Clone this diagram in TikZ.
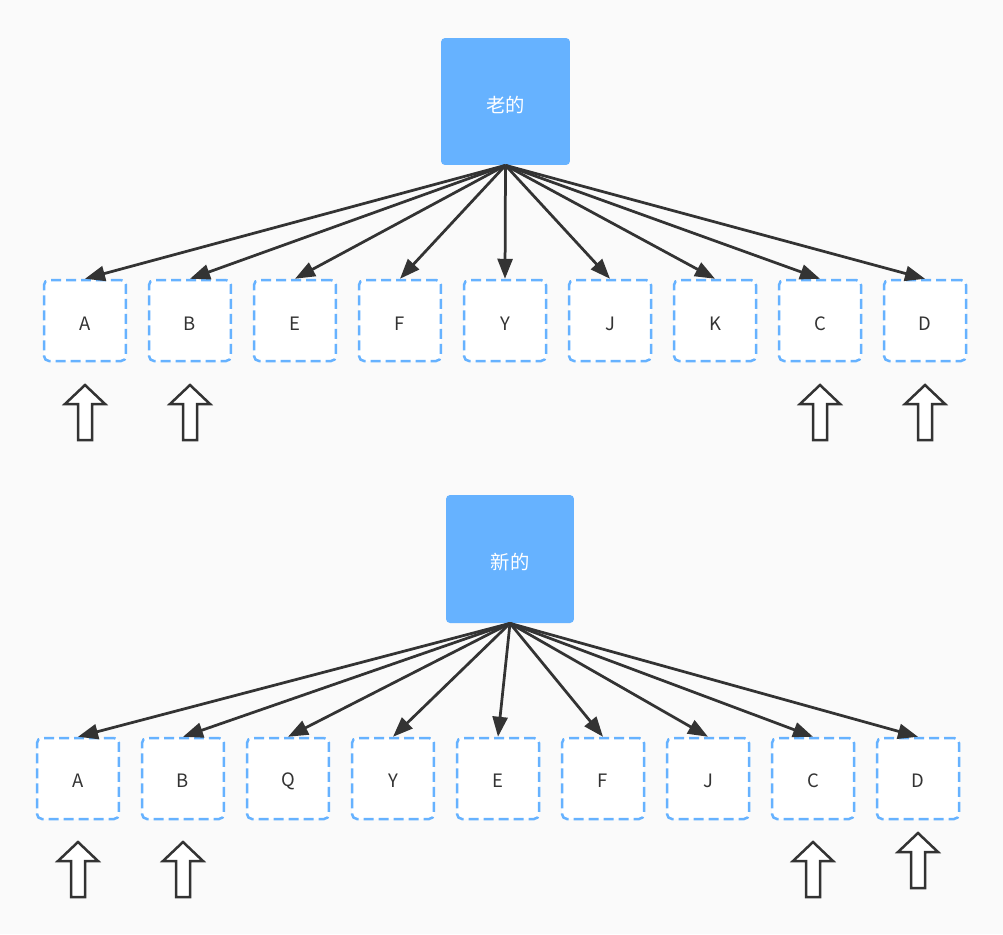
\documentclass[tikz,border=0pt]{standalone}
\usepackage{fontspec}
\setmainfont{Noto Sans CJK SC}
\usetikzlibrary{arrows.meta}
\definecolor{bg}{HTML}{FAFAFA}
\definecolor{blu}{HTML}{66B2FF}
\definecolor{ink}{HTML}{333333}
\begin{document}
\begin{tikzpicture}[x=0.02cm,y=-0.02cm,
  mainbox/.style={fill=blu, rounded corners=0.08cm, minimum width=2.58cm, minimum height=2.54cm, inner sep=0pt, text=white, font=\fontsize{11}{12}\selectfont},
  leaf/.style={draw=blu, fill=white, line width=0.05cm, dash pattern=on 0.2cm off 0.1cm, rounded corners=0.1cm, minimum width=1.64cm, minimum height=1.62cm, inner sep=0pt, text=ink, font=\fontsize{10.5}{12}\selectfont},
  lbl/.style={text=ink, font=\fontsize{10.5}{12}\selectfont, inner sep=0pt},
  conn/.style={draw=ink, line width=0.055cm, -{Triangle[length=0.4cm,width=0.3cm]}},
  hollow/.pic={\draw[ink, line width=0.05cm, fill=white, line join=miter] (0,0) -- (20,19) -- (7,19) -- (7,55) -- (-7,55) -- (-7,19) -- (-20,19) -- cycle;}
]
\fill[bg] (0,0) rectangle (1003,934);
\useasboundingbox (0,0) rectangle (1003,934);

% top
\node[mainbox] (old) at (505.5,101.5) {};
\node[lbl, text=white, font=\fontsize{11}{12}\selectfont] (oldt) at (505.5,105) {老的};
\foreach \n/\l [count=\i from 0] in {tA/A,tB/B,tE/E,tF/F,tY/Y,tJ/J,tK/K,tC/C,tD/D}{
  \node[leaf] (\n) at ({85+105*\i},320.5) {};
  \node[lbl] (\n t) at ({85+105*\i},324) {\l};
  \draw[conn] (old.south) -- (\n.north);
}
\pic at (85,385) {hollow};
\pic at (190,385) {hollow};
\pic at (820,385) {hollow};
\pic at (925,385) {hollow};

% bottom
\node[mainbox, minimum width=2.56cm, minimum height=2.56cm] (new) at (510,559) {};
\node[lbl, text=white, font=\fontsize{11}{12}\selectfont] (newt) at (510,562) {新的};
\foreach \n/\l [count=\i from 0] in {bA/A,bB/B,bQ/Q,bY/Y,bE/E,bF/F,bJ/J,bC/C,bD/D}{
  \node[leaf] (\n) at ({78+105*\i},778.5) {};
  \node[lbl] (\n t) at ({78+105*\i},781) {\l};
  \draw[conn] (new.south) -- (\n.north);
}
\pic at (78,842) {hollow};
\pic at (183,842) {hollow};
\pic at (813,842) {hollow};
\pic at (918,833) {hollow};
\end{tikzpicture}
\end{document}
